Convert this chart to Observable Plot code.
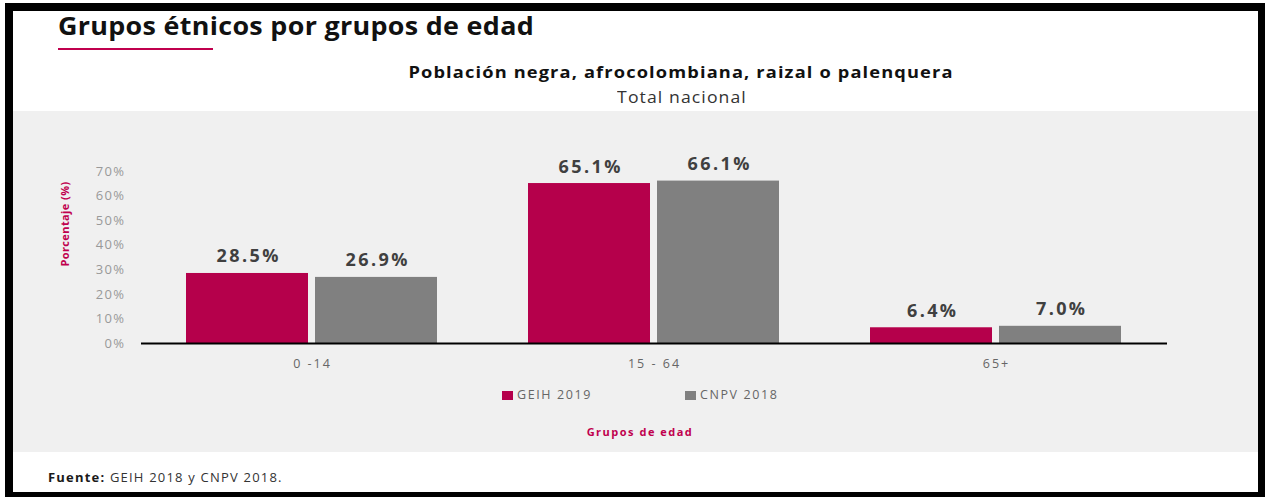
<!DOCTYPE html>
<html>
<head>
<meta charset="utf-8">
<script src="https://cdn.jsdelivr.net/npm/d3@7"></script>
<script src="https://cdn.jsdelivr.net/npm/@observablehq/plot@0.6"></script>
<style>
  html, body { margin: 0; padding: 0; }
  body { width: 1265px; height: 497px; position: relative; overflow: hidden; background: #fff; font-family: "Open Sans", sans-serif; }
  .t { position: absolute; white-space: nowrap; }
  #frame { position: absolute; left: 5px; top: 3px; right: 0; bottom: 0; border-style: solid; border-color: #000; border-width: 8px 7px 5px 8px; pointer-events: none; z-index: 10; }
  #panel { position: absolute; left: 13px; top: 111px; width: 1245px; height: 341px; background: #f0f0f0; }
  #chart { position: absolute; left: 0; top: 0; }
  #chart g[aria-label="text"] text { letter-spacing: 2.4px; }
  #chart g[aria-label="y-axis tick label"] text { letter-spacing: 1.4px; }
  #chart g[aria-label="fx-axis tick label"] text { letter-spacing: 2px; }
</style>
</head>
<body>
<div id="panel"><div id="chart"></div></div>

<div class="t" style="left:58px; top:12.8px; font-size:25px; line-height:25px; font-weight:700; color:#111; letter-spacing:0.3px; transform:scaleX(1.075); transform-origin:left center;">Grupos étnicos por grupos de edad</div>
<div style="position:absolute; left:58px; top:48px; width:155px; height:2px; background:#c0004e;"></div>

<div class="t" style="left:281px; width:800px; text-align:center; top:64px; font-size:16px; line-height:16px; font-weight:700; color:#111; letter-spacing:1px; transform:scaleX(1.14); transform-origin:center;">Población negra, afrocolombiana, raizal o palenquera</div>
<div class="t" style="left:282px; width:800px; text-align:center; top:88.8px; font-size:16px; line-height:16px; color:#333; letter-spacing:1px; transform:scaleX(1.1); transform-origin:center;">Total nacional</div>

<div class="t" style="left:15px; top:217px; width:100px; text-align:center; font-size:11px; line-height:14px; font-weight:700; color:#c0004e; letter-spacing:0.4px; transform:rotate(-90deg);">Porcentaje (%)</div>

<div id="legend"></div>

<div class="t" style="left:540px; width:200px; text-align:center; top:426px; font-size:11px; line-height:11px; font-weight:700; color:#c0004e; letter-spacing:1.5px;">Grupos de edad</div>

<div class="t" style="left:48px; top:470.5px; font-size:13px; line-height:13px; color:#333; letter-spacing:1.2px;"><b style="color:#1a1a1a">Fuente:</b> GEIH 2018 y CNPV 2018.</div>

<div id="frame"></div>

<script>
// ---- data ----
const grupos = ["0 -14", "15 - 64", "65+"];
const series = ["GEIH 2019", "CNPV 2018"];
const geih2019 = [28.5, 65.1, 6.4];
const cnpv2018 = [26.9, 66.1, 7.0];
const yTicks = [0, 10, 20, 30, 40, 50, 60, 70];
const colores = ["#b5004b", "#808080"];

const data = grupos.flatMap((g, i) => [
  {grupo: g, serie: series[0], valor: geih2019[i]},
  {grupo: g, serie: series[1], valor: cnpv2018[i]}
]);

const chart = Plot.plot({
  width: 1245,
  height: 341,
  marginLeft: 127,
  marginRight: 90,
  marginTop: 60,
  marginBottom: 109,
  style: {background: "transparent", fontFamily: "Open Sans", overflow: "visible"},
  fx: {domain: grupos, padding: 0, label: null},
  x: {domain: series, paddingInner: 0.054, paddingOuter: 0.345, axis: null},
  y: {domain: [0, 70], axis: null},
  color: {domain: series, range: colores},
  marks: [
    Plot.barY(data, {fx: "grupo", x: "serie", y: "valor", fill: "serie"}),
    Plot.ruleY([0], {stroke: "#000", strokeWidth: 2}),
    Plot.text(data, {fx: "grupo", x: "serie", y: "valor", text: d => d.valor.toFixed(1) + "%",
      lineAnchor: "bottom", dy: -11, dx: 1.2, fontSize: 18, fontWeight: "bold", fill: "#404040"}),
    Plot.axisY({ticks: yTicks, tickFormat: d => d + "%", tickSize: 0, tickPadding: 16,
      fontSize: 13, color: "#999", label: null}),
    Plot.axisFx({anchor: "bottom", tickSize: 0, tickPadding: 16, fontSize: 12.5, color: "#666", label: null})
  ]
});
document.getElementById("chart").appendChild(chart);

// legend (HTML) from series + colours
const legend = document.getElementById("legend");
const legX = [502, 685];
series.forEach((s, i) => {
  const sw = document.createElement("div");
  sw.style.cssText = `position:absolute;left:${legX[i]}px;top:391px;width:11px;height:9px;background:${colores[i]}`;
  legend.appendChild(sw);
  const tx = document.createElement("div");
  tx.className = "t";
  tx.style.cssText = `left:${legX[i] + 15}px;top:389px;font-size:12.5px;line-height:12.5px;color:#666;letter-spacing:1.6px`;
  tx.textContent = s;
  legend.appendChild(tx);
});
</script>
</body>
</html>
